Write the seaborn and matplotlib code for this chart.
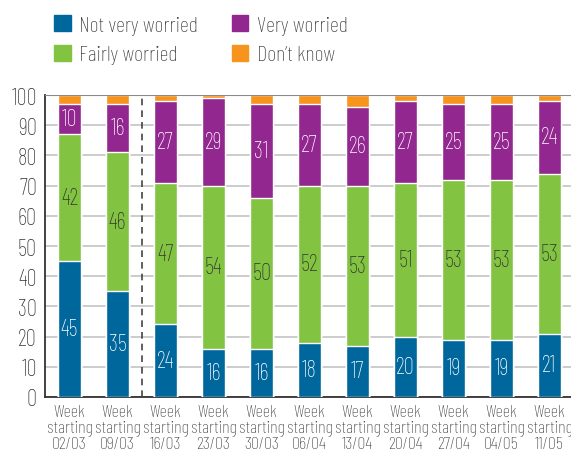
import numpy as np
import pandas as pd
import matplotlib
matplotlib.use("Agg")
import matplotlib.pyplot as plt
from matplotlib.patches import Patch
import seaborn as sns

# Données
weeks = ["02/03", "09/03", "16/03", "23/03", "30/03", "06/04",
         "13/04", "20/04", "27/04", "04/05", "11/05"]
not_very = [45, 35, 24, 16, 16, 18, 17, 20, 19, 19, 21]
fairly = [42, 46, 47, 54, 50, 52, 53, 51, 53, 53, 53]
very = [10, 16, 27, 29, 31, 27, 26, 27, 25, 25, 24]
dont_know = [3, 3, 2, 1, 3, 3, 4, 2, 3, 3, 2]

series_names = ["Not very worried", "Fairly worried", "Very worried", "Don\u2019t know"]
colors = ["#00679C", "#82C341", "#92278F", "#F7941D"]
text_colors = ["white", "#333333", "white", None]

sns.set_theme(style="white")
plt.rcParams['font.family'] = ['Barlow Condensed', 'DejaVu Sans']
plt.rcParams['font.weight'] = 'light'

labels = [f"Week\nstarting\n{w}" for w in weeks]
df = pd.DataFrame({"week": labels, "nvw": not_very, "fw": fairly,
                   "vw": very, "dk": dont_know})
layers = [df["nvw"], df["fw"], df["vw"], df["dk"]]
cums = np.cumsum(np.array(layers), axis=0)

fig = plt.figure(figsize=(5.71, 4.6), dpi=100)
ax = fig.add_axes([0.079, 0.135, 0.921, 0.656])

# Barres empilées : on dessine du haut vers le bas
for k in range(3, -1, -1):
    sns.barplot(x=df["week"], y=cums[k], color=colors[k], saturation=1,
                width=0.48, errorbar=None, ax=ax, zorder=3)

# Étiquettes des segments
for k in range(3):
    bottoms = cums[k] - layers[k]
    for i, v in enumerate(layers[k]):
        ax.text(i, bottoms[i] + v / 2, str(v), ha="center", va="center",
                fontsize=16.5, color=text_colors[k], zorder=5)

ax.set_ylim(0, 100)
ax.set_xlim(-0.51, 10.45)
ax.set_yticks(range(0, 101, 10))
ax.yaxis.grid(True, color="#C4C4C4", linewidth=1.2, zorder=0)
ax.axhline(100, color="#888888", linewidth=1.5, zorder=4)
ax.axvline(1.5, color="#444444", linestyle=(0, (4, 3)), linewidth=1.2, zorder=4)
ax.set_xlabel("")
ax.set_ylabel("")
for s in ["top", "right"]:
    ax.spines[s].set_visible(False)
for s in ["left", "bottom"]:
    ax.spines[s].set_color("#333333")
    ax.spines[s].set_linewidth(1.3)
ax.tick_params(axis="y", length=0, labelsize=16.5, colors="#333333", pad=6)
ax.tick_params(axis="x", length=0, labelsize=13, colors="#3a3a3a", pad=5)
for t in ax.get_xticklabels():
    t.set_linespacing(1.0)

handles = [Patch(color=c) for c in colors]
fig.legend(handles, series_names, ncol=2, loc="upper left",
           bbox_to_anchor=(0.075, 0.99), frameon=False, fontsize=16,
           borderpad=0, handlelength=0.75, handleheight=0.75,
           columnspacing=1.5, labelcolor="#333333", handletextpad=0.4,
           labelspacing=0.45)

fig.savefig("out.png", dpi=100)
